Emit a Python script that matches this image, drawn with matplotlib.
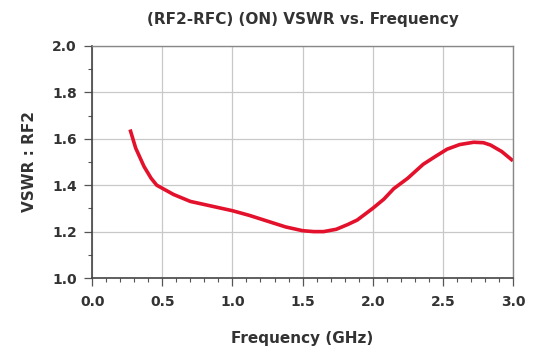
import matplotlib.pyplot as plt
from matplotlib.ticker import MultipleLocator

# VSWR curve
freq_ghz = [0.27, 0.31, 0.37, 0.42, 0.46, 0.52, 0.58, 0.70, 0.85, 1.00, 1.12,
            1.25, 1.38, 1.50, 1.58, 1.65, 1.74, 1.82, 1.89, 2.00, 2.08, 2.15,
            2.25, 2.36, 2.45, 2.53, 2.62, 2.72, 2.79, 2.84, 2.92, 3.00]
vswr = [1.64, 1.56, 1.48, 1.43, 1.40, 1.38, 1.36, 1.33, 1.31, 1.29, 1.27,
        1.245, 1.22, 1.204, 1.20, 1.20, 1.21, 1.23, 1.25, 1.30, 1.34, 1.385,
        1.43, 1.49, 1.525, 1.555, 1.575, 1.585, 1.583, 1.573, 1.545, 1.505]

x_ticks = [0.0, 0.5, 1.0, 1.5, 2.0, 2.5, 3.0]
y_ticks = [1.0, 1.2, 1.4, 1.6, 1.8, 2.0]

plt.rcParams['font.family'] = ['DejaVu Sans']
plt.rcParams['font.weight'] = 'bold'

fig = plt.figure(figsize=(5.36, 3.56), dpi=100)
ax = fig.add_axes([0.172, 0.219, 0.785, 0.652])

ax.plot(freq_ghz, vswr, color='#e3112b', linewidth=2.6, solid_capstyle='butt')

ax.set_xlim(0, 3.0)
ax.set_ylim(1.0, 2.0)
ax.set_xticks(x_ticks)
ax.set_yticks(y_ticks)
ax.set_xticklabels([f'{v:.1f}' for v in x_ticks])
ax.set_yticklabels([f'{v:.1f}' for v in y_ticks])
ax.xaxis.set_minor_locator(MultipleLocator(0.1))
ax.yaxis.set_minor_locator(MultipleLocator(0.1))

ax.grid(True, which='major', color='#c8c8c8', linewidth=0.9)
ax.set_axisbelow(True)

ax.tick_params(which='major', direction='out', length=6, width=0.9,
               labelsize=10, labelcolor='#333333', color='#555555')
ax.tick_params(which='minor', direction='out', length=3, width=0.8,
               color='#555555')
ax.tick_params(axis='x', pad=6)
ax.tick_params(axis='y', pad=5)

for side in ['left', 'bottom']:
    ax.spines[side].set_color('#444444')
    ax.spines[side].set_linewidth(1.2)
for side in ['top', 'right']:
    ax.spines[side].set_color('#888888')
    ax.spines[side].set_linewidth(1.0)

ax.set_xlabel('Frequency (GHz)', fontsize=11, fontweight='bold',
              color='#333333', labelpad=16)
ax.set_ylabel('VSWR : RF2', fontsize=11, fontweight='bold',
              color='#333333', labelpad=11)
ax.set_title('(RF2-RFC) (ON) VSWR vs. Frequency', fontsize=11,
             fontweight='bold', color='#333333', pad=16)

fig.savefig('out.png', dpi=100)
